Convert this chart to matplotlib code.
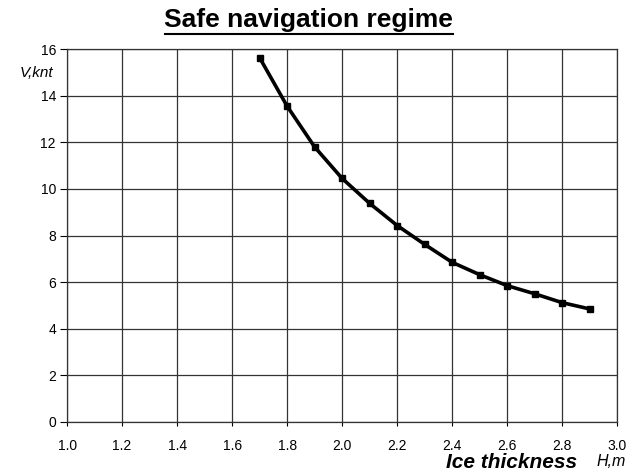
import matplotlib.pyplot as plt

# ice thickness (m) and safe speed (knots)
thickness = [1.7, 1.8, 1.9, 2.0, 2.1, 2.2, 2.3, 2.4, 2.5, 2.6, 2.7, 2.8, 2.9]
speed = [15.63, 13.55, 11.8, 10.45, 9.38, 8.43, 7.62, 6.85, 6.32, 5.85, 5.5, 5.12, 4.85]

xticks = [1.0, 1.2, 1.4, 1.6, 1.8, 2.0, 2.2, 2.4, 2.6, 2.8, 3.0]
yticks = [0, 2, 4, 6, 8, 10, 12, 14, 16]

plt.rcParams['font.family'] = ['Liberation Sans', 'DejaVu Sans']

fig = plt.figure(figsize=(6.33, 4.72), dpi=100)
ax = fig.add_axes([0.106, 0.106, 0.869, 0.790])

ax.plot(thickness, speed, color='black', linewidth=2.6,
        marker='s', markersize=5, markerfacecolor='black')

ax.set_xlim(1.0, 3.0)
ax.set_ylim(0, 16)
ax.set_xticks(xticks)
ax.set_xticklabels([f'{t:.1f}' for t in xticks])
ax.set_yticks(yticks)
ax.grid(True, color='#333333', linewidth=0.9)
ax.tick_params(labelsize=10, width=0.8, colors='black')
ax.tick_params(axis='y', length=5, pad=3)
ax.tick_params(axis='x', length=3, pad=9)
for s in ax.spines.values():
    s.set_color('#333333')
    s.set_linewidth(0.9)

fig.text(0.488, 0.957, 'Safe navigation regime', ha='center', va='center',
         fontsize=19, fontweight='bold')
# underline under the title
fig.add_artist(plt.Line2D([0.261, 0.716], [0.929, 0.929], color='black', linewidth=1.5))

fig.text(0.058, 0.845, 'V,knt', ha='center', va='center', fontsize=11,
         style='italic')
fig.text(0.912, 0.021, 'Ice thickness', ha='right', va='center', fontsize=15,
         fontweight='bold', style='italic')
fig.text(0.965, 0.023, 'H,m', ha='center', va='center', fontsize=11.5,
         style='italic')

fig.savefig('out.png', dpi=100)
